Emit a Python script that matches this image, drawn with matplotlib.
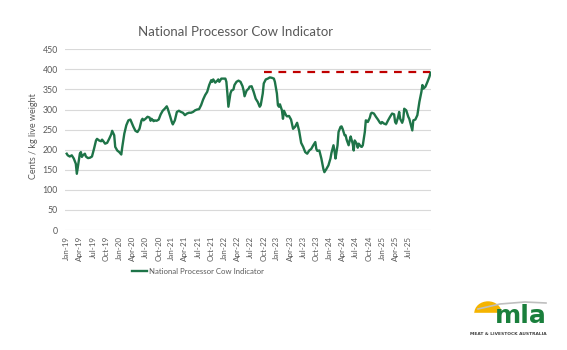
import matplotlib
matplotlib.use("Agg")
import matplotlib.pyplot as plt
from matplotlib.patches import Ellipse, Polygon

# weekly series, x = week number since first week of Jan 2019
weeks = [0, 1, 3, 5, 7, 9, 10, 11, 13, 14, 15, 16, 18, 19, 21, 23, 25, 27, 29, 30,
         32, 34, 35, 36, 38, 40, 42, 44, 45, 47, 48, 50, 52, 54, 55, 57, 59, 61, 63, 64,
         66, 68, 70, 72, 74, 75, 76, 78, 80, 82, 83, 84, 86,
         87, 89, 91, 93, 95, 97, 99, 100, 102, 104, 105, 107, 109, 111, 113, 115, 117, 119,
         121, 123, 125, 127, 129, 131, 133, 135, 137, 139, 141, 143, 144, 145, 147, 149,
         150, 151, 153, 155, 157, 158, 159, 160, 162, 163, 165, 166, 168, 170, 172, 174,
         175, 176, 178, 180,
         181, 183, 185, 187, 189, 191, 192, 194, 195, 197, 199, 201, 203, 205, 206, 208,
         209, 210, 211, 213, 214, 215, 217, 218, 220, 222, 224, 226, 228, 230, 232, 234,
         236, 238, 240, 242, 244, 246, 247, 248, 250, 252, 254, 255, 257, 259, 261, 262,
         264, 265, 266, 268, 269, 271, 272,
         273, 275, 276, 277, 279, 280, 281, 283, 284, 285, 287, 288, 289, 291, 292, 293,
         295, 296, 297, 298, 300, 301, 302, 304, 306, 308, 310, 311, 312, 314, 316, 318,
         320, 322, 324, 325, 326, 328, 329, 330, 332, 333, 334, 336, 337, 338, 339, 341,
         342, 343, 345, 347, 348, 349, 351, 352, 353, 355, 357, 359, 360]
npci = [190, 186, 183, 186, 178, 165, 140, 157, 190, 194, 182, 186, 190, 183, 179, 180, 183, 202, 223, 227,
        223, 221, 225, 222, 215, 217, 227, 238, 247, 236, 207, 198, 194, 188, 207, 240, 261, 273, 275, 269,
        257, 247, 244, 252, 273, 277, 273, 277, 282, 280, 272, 277, 271,
        273, 272, 275, 288, 297, 302, 308, 302, 286, 269, 263, 273, 294, 297, 294, 292, 286, 290,
        292, 292, 294, 298, 300, 301, 311, 325, 336, 344, 361, 373, 369, 375, 367, 372,
        375, 369, 377, 377, 377, 369, 340, 307, 340, 347, 350, 361, 369, 372, 369, 358,
        348, 333, 347, 352,
        357, 358, 344, 327, 319, 307, 311, 340, 365, 375, 377, 380, 379, 377, 369, 340,
        311, 307, 313, 298, 277, 297, 286, 283, 284, 275, 252, 257, 267, 247, 217, 207,
        194, 190, 198, 202, 211, 219, 202, 197, 198, 178, 152, 144, 152, 161, 178, 192,
        211, 197, 178, 211, 244, 257, 258,
        252, 236, 236, 225, 211, 223, 233, 215, 198, 223, 215, 205, 215, 208, 207, 211,
        244, 273, 272, 269, 280, 290, 292, 290, 282, 275, 267, 265, 269, 265, 263, 273,
        282, 290, 288, 269, 265, 282, 294, 277, 267, 275, 302, 298, 290, 282, 277, 257,
        248, 273, 275, 286, 302, 319, 344, 361, 352, 357, 369, 382, 392]

# dashed reference level
ref_level = 393
ref_weeks = [195, 360]

tick_weeks = list(range(0, 339, 13))
tick_labels = ['Jan-19', 'Apr-19', 'Jul-19', 'Oct-19', 'Jan-20', 'Apr-20', 'Jul-20', 'Oct-20',
               'Jan-21', 'Apr-21', 'Jul-21', 'Oct-21', 'Jan-22', 'Apr-22', 'Jul-22', 'Oct-22',
               'Jan-23', 'Apr-23', 'Jul-23', 'Oct-23', 'Jan-24', 'Apr-24', 'Jul-24', 'Oct-24',
               'Jan-25', 'Apr-25', 'Jul-25']

plt.rcParams['font.family'] = ['Lato', 'DejaVu Sans']
grey = '#595959'
green = '#1e7448'

fig = plt.figure(figsize=(5.67, 3.5), dpi=100)
ax = fig.add_axes([65 / 567, 1 - 230 / 350, 366 / 567, 180.7 / 350])

line, = ax.plot(weeks, npci, color=green, lw=1.7, solid_joinstyle='round',
                label='National Processor Cow Indicator')
ax.plot(ref_weeks, [ref_level, ref_level], color='#c00000', lw=1.6, dashes=(3.5, 3))

ax.set_xlim(-1.7, 360.5)
ax.set_ylim(0, 450)
ax.set_yticks(range(0, 451, 50))
ax.set_xticks(tick_weeks)
ax.set_xticklabels(tick_labels, rotation=90)
ax.grid(axis='y', color='#d9d9d9', lw=0.8)
ax.set_axisbelow(True)
for s in ax.spines.values():
    s.set_visible(False)
ax.tick_params(axis='both', length=0, colors=grey, labelsize=5.8)
ax.tick_params(axis='y', pad=5, labelsize=6.3)
ax.tick_params(axis='x', pad=4)
ax.set_ylabel('Cents / kg live weight', color=grey, fontsize=6.5)
ax.yaxis.set_label_coords(-0.074, 0.52)

fig.text(235 / 567, 1 - 32 / 350, 'National Processor Cow Indicator', ha='center', va='center',
         color=grey, fontsize=9.5)

fig.legend(handles=[line], loc='center', bbox_to_anchor=(198 / 567, 1 - 271 / 350),
           frameon=False, fontsize=5.6, handlelength=1.9, handletextpad=0.3, labelcolor=grey)

# mla logo, drawn in pixel space
lg = fig.add_axes([460 / 567, 1 - 345 / 350, 100 / 567, 55 / 350])
lg.set_xlim(460, 560)
lg.set_ylim(345, 290)
lg.axis('off')
lg.add_patch(Ellipse((488, 313), 26, 22, color='#f5b400'))
lg.add_patch(Polygon([(474, 313), (502, 313), (502, 326), (474, 326)], color='white'))
lg.plot([478, 500, 525, 546], [309, 304, 302, 303], color='#bfbfbf', lw=1.2)
lg.text(521, 316, 'mla', ha='center', va='center', color='#1a7f3c', fontsize=18,
        fontweight='bold', family='DejaVu Sans')
lg.text(508, 334, 'MEAT & LIVESTOCK AUSTRALIA', ha='center', va='center', color='#404040',
        fontsize=3.2, fontweight='bold', family='DejaVu Sans')

fig.savefig('out.png', dpi=100)
